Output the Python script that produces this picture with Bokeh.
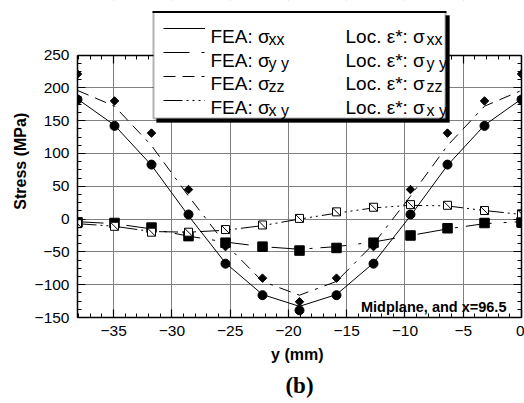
import math
from bokeh.plotting import figure
from bokeh.models import (Range1d, LinearAxis, SingleIntervalTicker, Label, Legend,
                          LegendItem, BoxAnnotation, Title)
from bokeh.embed import file_html
from bokeh.resources import INLINE

# ---------------- data ----------------
y_mm = [-38.1, -34.925, -31.75, -28.575, -25.4, -22.225, -19.05,
        -15.875, -12.7, -9.525, -6.35, -3.175, 0.0]

fea_xx = [183, 143, 82, 5, -67, -115, -133, -115, -67, 5, 82, 143, 183]
fea_yy = [-4, -7, -15, -26, -35, -42, -46, -42, -35, -25, -15, -7, -4]
fea_zz = [196, 172, 112, 35, -38, -95, -116, -95, -38, 35, 112, 172, 196]
fea_xy = [-7, -11, -19, -20, -17, -10, 0, 9, 17, 21, 20, 13, 7]

loc_xx = [182, 142, 83, 7, -68, -116, -139, -116, -68, 7, 83, 142, 182]
loc_yy = [-5, -6, -13, -26, -36, -42, -48, -44, -36, -25, -14, -6, -5]
loc_zz = [221, 180, 131, 45, -42, -90, -126, -90, -42, 45, 131, 180, 221]
loc_xy = [-7, -11, -20, -20, -16, -9, 1, 11, 18, 22, 21, 13, 8]

x_min, x_max = -38.1, 0.0
y_min, y_max = -150, 250
x_label = "y  (mm)"
y_label = "Stress  (MPa)"
note = "Midplane,  and  x=96.5"
caption = "(b)"
fea_main = "FEA: σ"
loc_main = "Loc. ε*: σ"
subs = ["xx", "y y", "zz", "x y"]

# ---------------- layout (canvas starts at page 0,0) ----------------
W, H = 524, 402
ML, MR, MT = 77, 3, 0
FRAME_B = 317                 # page y of y = -150
MB = H - FRAME_B
T250 = 54.5                   # page y of y = 250
scale = (FRAME_B - T250) / (y_max - y_min)
y_top = y_max + (T250 - MT) / scale
FW = W - ML - MR


def rx(px):
    return px - ML


def ry(py):
    return FRAME_B - py


p = figure(width=W, height=H, output_backend="svg", toolbar_location=None,
           x_range=Range1d(x_min, x_max), y_range=Range1d(y_min, y_top),
           min_border_left=ML, min_border_right=MR,
           min_border_top=MT, min_border_bottom=MB)
p.title.visible = False
p.background_fill_color = "white"
p.border_fill_color = "white"
p.outline_line_color = None

bx = p.below[0]
ly = p.left[0]
bx.ticker = SingleIntervalTicker(interval=5, num_minor_ticks=5)
ly.ticker = SingleIntervalTicker(interval=50, num_minor_ticks=4)
ly.bounds = (y_min, y_max)
p.grid.grid_line_color = "#808080"
p.grid.grid_line_width = 1

# top edge axis: lives in the bottom panel but is drawn at y = 250
top_ax = LinearAxis(ticker=SingleIntervalTicker(interval=5, num_minor_ticks=5),
                    fixed_location=y_max)
right_ax = LinearAxis(ticker=SingleIntervalTicker(interval=50, num_minor_ticks=4),
                      bounds=(y_min, y_max))
p.add_layout(top_ax, "below")
p.add_layout(right_ax, "right")

for ax in [bx, ly, top_ax, right_ax]:
    ax.axis_line_color = "black"
    ax.axis_line_width = 1.5
    ax.major_tick_in = 8
    ax.major_tick_out = 0
    ax.minor_tick_in = 4
    ax.minor_tick_out = 0
    ax.major_tick_line_color = "black"
    ax.minor_tick_line_color = "black"
    ax.major_tick_line_width = 1.2
    ax.minor_tick_line_width = 1
# ticks of the top edge must point down into the plot
top_ax.major_tick_in = 0
top_ax.minor_tick_in = 0
top_ax.major_tick_out = 8
top_ax.minor_tick_out = 4

for ax in [bx, ly]:
    ax.major_label_text_font = "Liberation Sans"
    ax.major_label_text_font_size = "15.5px"
    ax.major_label_text_color = "black"
    ax.axis_label_text_font = "Liberation Sans"
    ax.axis_label_text_font_size = "16px"
    ax.axis_label_text_font_style = "bold"
    ax.axis_label_text_color = "black"
bx.major_label_standoff = 8
ly.major_label_standoff = 8
bx.axis_label_standoff = 7
ly.axis_label_standoff = 3
bx.axis_label = x_label
ly.axis_label = y_label

for ax in [top_ax, right_ax]:
    ax.major_label_text_font_size = "0px"
    ax.major_label_text_color = None
    ax.major_label_text_alpha = 0
    ax.major_label_standoff = 0
    ax.axis_label_standoff = 0

# hide grid lines above the plotting area
p.add_layout(BoxAnnotation(left=x_min, right=x_max, bottom=y_max, top=y_top,
                           fill_color="white", fill_alpha=1, line_color=None,
                           level="underlay"))

# ---------------- glyphs ----------------
r_fxx = p.line(y_mm, fea_xx, line_color="black", line_width=1)
r_fyy = p.line(y_mm, fea_yy, line_color="black", line_width=1, line_dash="26 12 3 8")
r_fzz = p.line(y_mm, fea_zz, line_color="black", line_width=1, line_dash="12 7 12 7 3 7")
r_fxy = p.line(y_mm, fea_xy, line_color="black", line_width=1, line_dash="19 4 2 4 2 4 2 4")

r_lyy = p.scatter(y_mm, loc_yy, marker="square", size=9.5, color="black")
r_lxy = p.scatter(y_mm, loc_xy, marker="square", size=8, fill_color="white",
                  line_color="black", line_width=1)
r_lxy_d = p.scatter(y_mm, loc_xy, marker="dash", size=11, angle=-math.pi / 4,
                    line_color="black", line_width=1)
r_lzz = p.scatter(y_mm, loc_zz, marker="square", size=6, angle=math.pi / 4, color="black")
r_lxx = p.scatter(y_mm, loc_xx, marker="circle", size=9, color="black")

# legend-only renderers (no data)
g_xx = p.scatter([], [], marker="circle", color="black")
g_yy = p.scatter([], [], marker="square", color="black")
g_zz = p.scatter([], [], marker="diamond", color="black")
g_xy = p.scatter([], [], marker="square_x", fill_color="white", line_color="black", line_width=1)

# ---------------- legend ----------------
def screen_box(l, r, t, b, **kw):
    return BoxAnnotation(left=rx(l), right=rx(r), top=ry(t), bottom=ry(b),
                         left_units="screen", right_units="screen",
                         top_units="screen", bottom_units="screen", **kw)


p.add_layout(screen_box(156, 449, 15, 122, fill_color="black", fill_alpha=1,
                        line_color="black"))
p.add_layout(screen_box(153, 445, 11.5, 118, fill_color="white", fill_alpha=1,
                        line_color="black", line_width=2))
# top edge of the legend frame, drawn again as a thin strip
p.add_layout(screen_box(152, 446, 10.5, 12.5, fill_color="black", fill_alpha=1,
                        line_color=None))

ROW0, DROW = 29, 23.7


def make_legend(renderers, left, gw):
    items = [LegendItem(label=" ", renderers=r) for r in renderers]
    return Legend(items=items, location=(rx(left), ry(ROW0 - DROW / 2 + 4 * DROW)),
                  orientation="vertical", glyph_width=gw, glyph_height=int(round(DROW)),
                  spacing=0, padding=0, margin=0, label_standoff=0,
                  label_text_font_size="1px", label_width=1, label_height=1,
                  label_text_alpha=0,
                  border_line_alpha=0, background_fill_alpha=0)


leg1 = make_legend([[r_fxx], [r_fyy], [r_fzz], [r_fxy]], 163, 42)
leg2 = make_legend([[g_xx], [g_yy], [g_zz], [g_xy]], 308, 18)
p.add_layout(leg1)
p.add_layout(leg2)

for i, sub in enumerate(subs):
    base = ROW0 + i * DROW + 7
    for txt, x0, xs in [(fea_main, 210, 268), (loc_main, 345, 426)]:
        p.add_layout(Label(x=rx(x0), y=ry(base), x_units="screen", y_units="screen",
                           text=txt, text_font="Liberation Sans", text_font_size="19px",
                           text_color="black", text_baseline="alphabetic", text_align="left"))
        p.add_layout(Label(x=rx(xs), y=ry(base + 3), x_units="screen", y_units="screen",
                           text=sub, text_font="Liberation Sans", text_font_size="16px",
                           text_color="black", text_baseline="alphabetic", text_align="left"))

# ---------------- notes ----------------
p.add_layout(Label(x=rx(514), y=ry(306.5), x_units="screen", y_units="screen",
                   text=note, text_font="Liberation Sans", text_font_style="bold",
                   text_font_size="14.5px", text_color="black",
                   text_align="right", text_baseline="alphabetic"))
p.add_layout(Title(text=caption, align="center", text_font="Liberation Serif",
                   text_font_style="bold", text_font_size="23px", text_color="black",
                   standoff=10), "below")

open("out.html", "w").write(file_html(p, INLINE))
